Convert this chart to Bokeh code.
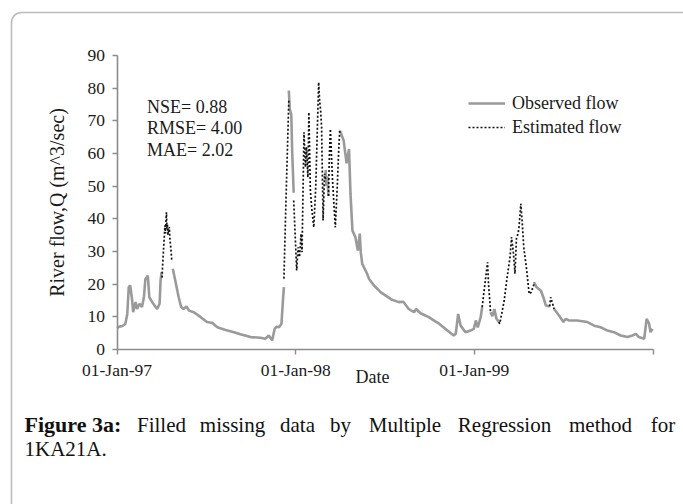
import numpy as np
import pandas as pd
from bokeh.plotting import figure
from bokeh.models import (Label, BoxAnnotation, FixedTicker, DatetimeTickFormatter,
                          Legend, LegendItem, Range1d)
from bokeh.embed import file_html
from bokeh.resources import INLINE

nan = float("nan")
start = pd.Timestamp("1997-01-01")

# Observed flow: day offset from 01-Jan-97, value (NaN = gap filled by estimate)
obs_days = [0, 5, 11, 17, 21, 24, 27, 31, 33, 38, 41, 46, 51, 55, 58, 63, 66, 72, 82, 87, 89, 91, nan,
            114, 119, 126, 131, 136, 142, 147, 157, 171, 184, 195, 205, 222, 239, 252, 273, 293, 303,
            310, 317, 322, 326, 331, 336, 339, 341, nan,
            351, 353, 356, 358, 361, nan,
            426, 428, 430, 432, nan,
            455, 458, 463, 469, 474, 477, 481, 487, 492, 496, 498, 501, 511, 515, 525, 539, 549, 562,
            576, 585, 596, 607, 611, 620, 637, 647, 658, 675, 688, 692, 697, 702, 712, 722, 729, 733,
            737, 743, 746, nan,
            763, 767, 771, 775, 780, nan,
            852, 857, 866, 871, 876, 884, nan,
            893, 903, 912, 917, 923, 940, 961, 975, 988, 1002, 1015, 1029, 1043, 1053, 1060, 1066,
            1077, 1082, 1087, 1090, 1094]
obs_flow = [6.6, 7.0, 7.2, 7.8, 10.9, 19.1, 19.6, 15.0, 11.4, 14.5, 12.4, 14.0, 13.0, 16.0, 21.6, 22.6,
            16.0, 14.5, 12.4, 14.0, 21.0, 23.7, nan,
            24.7, 21.1, 16.0, 13.0, 12.4, 13.2, 11.9, 11.4, 9.9, 8.4, 8.1, 6.8, 6.0, 5.3, 4.7, 3.8,
            3.6, 3.3, 4.3, 2.8, 6.3, 7.0, 6.8, 7.9, 15.0, 19.1, nan,
            79.3, 73.5, 72.0, 60.0, 48.0, nan,
            55.0, 50.0, 53.0, 47.0, nan,
            67.0, 66.0, 64.0, 57.0, 61.4, 47.7, 36.4, 34.4, 30.3, 35.5, 29.8, 26.2, 23.2, 21.6, 19.6,
            17.5, 16.5, 15.2, 14.5, 14.6, 12.4, 11.4, 12.4, 11.1, 9.9, 8.9, 7.9, 5.8, 4.3, 4.8, 10.9,
            7.3, 5.3, 5.8, 6.3, 8.9, 6.8, 9.9, 13.0, nan,
            11.4, 10.2, 12.4, 9.5, 8.4, nan,
            20.6, 19.1, 18.0, 16.0, 13.5, 13.2, nan,
            12.4, 10.4, 8.4, 9.4, 8.9, 8.9, 8.4, 7.3, 6.8, 5.8, 5.3, 4.3, 3.8, 4.3, 4.8, 3.8,
            3.3, 9.4, 7.9, 5.3, 6.3]

# Estimated flow (Multiple Regression) for the missing periods
est_days = [92, 94, 96, 98, 99, 100, 101, 102, 103, 104, 105, 106, 107, 108, 110, 112, nan,
            341, 346, 351, nan,
            361, 364, 367, 370, 373, 376, 378, 382, 385, 387, 390, 392, 395, 398, 402, 406, 409,
            412, 414, 416, 418, 421, 424, 426, nan,
            432, 434, 436, 438, 440, 443, 446, 450, 453, 455, nan,
            746, 750, 754, 757, 759, 762, 763, nan,
            780, 782, 786, 791, 797, 803, 806, 810, 813, 816, 819, 821, 825, 828, 831, 837, 842,
            846, 851, 852, nan,
            884, 886, 890, 893]
est_flow = [22.0, 28.0, 33.0, 38.0, 35.5, 39.0, 42.0, 37.0, 38.5, 35.0, 37.0, 36.0, 37.5, 34.0, 31.0,
            27.0, nan,
            21.7, 50.0, 76.2, nan,
            45.6, 35.0, 24.2, 31.3, 28.3, 35.4, 29.8, 66.5, 55.8, 62.0, 52.7, 72.6, 48.7, 43.0, 37.4,
            49.7, 66.0, 81.8, 76.0, 73.2, 68.0, 39.5, 53.8, 52.0, nan,
            47.0, 60.0, 67.5, 60.0, 52.7, 45.0, 37.4, 50.0, 61.4, 67.0, nan,
            13.0, 18.0, 23.0, 26.7, 20.0, 14.0, 11.4, nan,
            8.4, 7.9, 11.0, 15.0, 22.1, 28.3, 34.4, 29.3, 23.2, 33.9, 35.4, 36.9, 44.6, 38.5, 31.3,
            24.2, 17.0, 17.5, 19.6, 20.6, nan,
            13.2, 16.0, 14.0, 12.4]

tick_dates = ["1997-01-01", "1998-01-01", "1999-01-01"]
end_date = "2000-01-01"
y_ticks = [0, 10, 20, 30, 40, 50, 60, 70, 80, 90]
stats = ["NSE= 0.88", "RMSE= 4.00", "MAE= 2.02"]
caption_head = "Figure 3a:"
caption_words = ["Filled", "missing", "data", "by", "Multiple", "Regression", "method", "for"]
caption_line2 = "1KA21A."

DAY = 86400000.0
t0 = start.value / 1e6


def to_ms(days):
    return [t0 + d * DAY for d in days]


def ms(s):
    return pd.Timestamp(s).value / 1e6


# ---- layout constants (pixels on the 683x504 canvas) ----
W, H = 683, 504
AX_L, AX_R = 116.5, 652.5       # x position of 01-Jan-97 and 01-Jan-00
AX_B, AX_T = 349.0, 55.0        # y position of 0 and 90
x0, x1 = ms(tick_dates[0]), ms(end_date)
sx = (x1 - x0) / (AX_R - AX_L)
sy = 90.0 / (AX_B - AX_T)
x_range = Range1d(x0 - AX_L * sx, x0 + (W - AX_L) * sx)
y_range = Range1d(-(H - AX_B) * sy, 90 + AX_T * sy)

SERIF = "Liberation Serif"
INK = "#1a1a1a"

p = figure(width=W, height=H, output_backend="svg", toolbar_location=None,
           x_axis_type="datetime", x_range=x_range, y_range=y_range,
           min_border=0, min_border_left=0, min_border_right=0,
           min_border_top=0, min_border_bottom=0)
p.outline_line_color = None
p.grid.visible = False
p.background_fill_color = "white"
p.border_fill_color = "white"

r_obs = p.line(to_ms(obs_days), obs_flow, line_color="#9a9a9a", line_width=2.6)
r_est = p.line(to_ms(est_days), est_flow, line_color="#111111", line_width=1.7, line_dash="2 2")

# axes (fixed inside the frame so that the whole canvas is drawable)
xa = p.xaxis[0]
xa.fixed_location = 0
xa.bounds = (x0, x1)
xa.ticker = FixedTicker(ticks=[ms(d) for d in tick_dates], minor_ticks=[x1])
fmt = "%d-%b-%y"
xa.formatter = DatetimeTickFormatter(milliseconds=fmt, seconds=fmt, minsec=fmt, minutes=fmt,
                                     hourmin=fmt, hours=fmt, days=fmt, months=fmt, years=fmt)
ya = p.yaxis[0]
ya.fixed_location = x0
ya.bounds = (0, 90)
ya.ticker = FixedTicker(ticks=y_ticks)
for ax in (xa, ya):
    ax.axis_line_color = "#8c8c8c"
    ax.axis_line_width = 1.6
    ax.major_tick_line_color = "#8c8c8c"
    ax.major_tick_line_width = 1.4
    ax.major_tick_out = 5
    ax.major_tick_in = 0
    ax.major_label_text_font = SERIF
    ax.major_label_text_font_size = "17.5px"
    ax.major_label_text_color = INK
xa.minor_tick_line_color = "#8c8c8c"
xa.minor_tick_line_width = 1.4
xa.minor_tick_out = 5
xa.minor_tick_in = 0
xa.major_label_standoff = 5
ya.minor_tick_line_color = None
ya.major_label_standoff = 7
ya.axis_label = "River flow,Q (m^3/sec)"
ya.axis_label_text_font = SERIF
ya.axis_label_text_font_size = "20px"
ya.axis_label_text_font_style = "normal"
ya.axis_label_text_color = INK
ya.axis_label_standoff = 17


def canvas_label(text, x, y, size="18px", align="left", bold=False, font=SERIF, color=INK):
    p.add_layout(Label(x=x, y=y, x_units="canvas", y_units="canvas", text=text,
                       text_align=align, text_baseline="alphabetic", text_font=font,
                       text_font_size=size, text_font_style="bold" if bold else "normal",
                       text_color=color))


canvas_label("Date", 372, 376, align="center")

# statistics
for i, s in enumerate(stats):
    canvas_label(s, 146.5, 106 + 21.6 * i)

legend = Legend(items=[LegendItem(label="Observed flow", renderers=[r_obs]),
                       LegendItem(label="Estimated flow", renderers=[r_est])],
                location=(468, H - 137.5), padding=0, margin=0, spacing=3,
                glyph_width=37, glyph_height=20, label_height=20, label_standoff=7,
                label_text_font=SERIF, label_text_font_size="18px", label_text_color=INK,
                border_line_color=None, background_fill_alpha=0)
p.add_layout(legend)

# outer rounded frame (right and bottom sides lie outside the window)
p.add_layout(BoxAnnotation(left=11, right=W + 60, top=12, bottom=H + 60, left_units="canvas",
                           right_units="canvas", top_units="canvas", bottom_units="canvas",
                           fill_alpha=0, line_color="#222222", line_width=1.6, border_radius=10))

# caption (justified first line)
CAP_Y1, CAP_Y2 = 424, 448
canvas_label(caption_head, 24, CAP_Y1, size="22px", bold=True, color="#111111")
word_cx = [161, 232, 297, 340, 404.5, 504, 600, 662.5]
for w, x in zip(caption_words, word_cx):
    canvas_label(w, x, CAP_Y1, size="21px", align="center", color="#111111")
canvas_label(caption_line2, 24, CAP_Y2, size="21px", color="#111111")

open("out.html", "w").write(file_html(p, INLINE))
